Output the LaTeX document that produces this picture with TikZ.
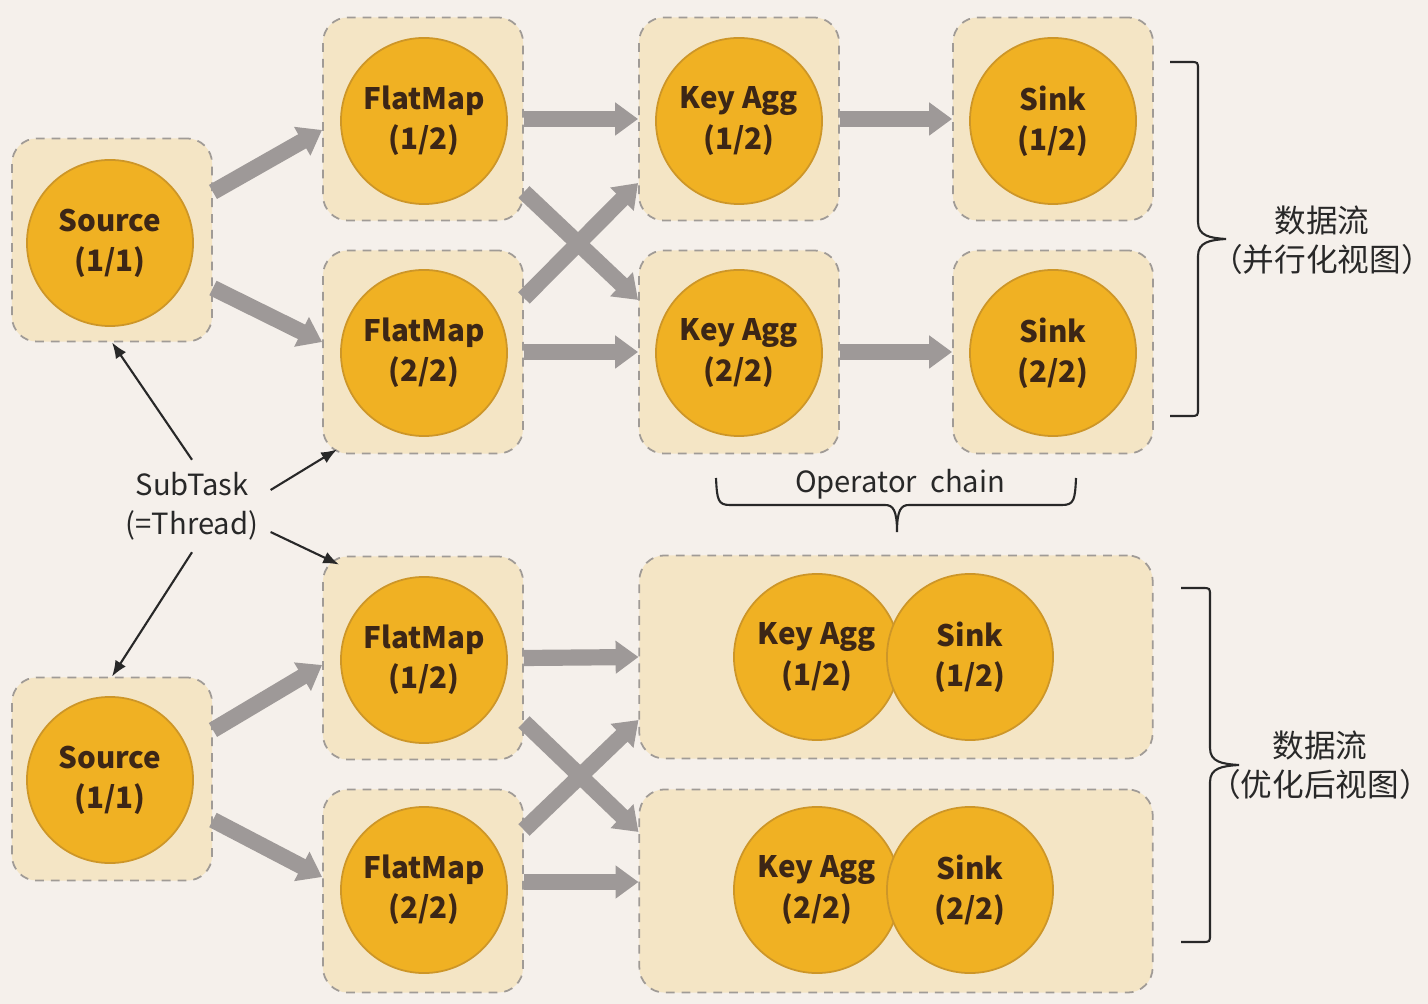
\documentclass[tikz,border=0pt]{standalone}
\usepackage{fontspec}
\setmainfont{Noto Sans CJK SC}
\usetikzlibrary{arrows.meta}
\definecolor{bgpaper}{RGB}{245,240,235}
\definecolor{boxfill}{RGB}{244,229,197}
\definecolor{boxline}{RGB}{160,155,150}
\definecolor{opfill}{RGB}{240,177,35}
\definecolor{opline}{RGB}{205,150,40}
\definecolor{optext}{RGB}{60,38,22}
\definecolor{flowgray}{RGB}{158,153,152}
\definecolor{notetext}{RGB}{40,40,40}

\begin{document}
\begin{tikzpicture}[x=0.01cm, y=-0.01cm,
  box/.style={draw=boxline, dashed, dash pattern=on 2.5pt off 2pt, line width=0.5pt, fill=boxfill, rounded corners=0.25cm, minimum width=2cm, minimum height=2.03cm},
  chainbox/.style={box, minimum width=5.13cm},
  op/.style={circle, draw=opline, line width=0.5pt, fill=opfill, minimum size=1.66cm, inner sep=0pt, align=center, text=optext, font=\fontsize{8.4}{11.4}\selectfont\bfseries},
  flow/.style={draw=flowgray, line width=4.6pt, -{Triangle[width=9pt,length=6.5pt]}},
  note/.style={font=\fontsize{8.3}{11}\selectfont, text=notetext, align=center},
  viewnote/.style={font=\fontsize{9}{11}\selectfont, text=notetext, align=center},
  hint/.style={-{Latex[length=4.5pt,width=3.5pt]}, line width=0.6pt, draw=notetext},
  bracket/.style={line width=0.6pt, draw=notetext}]
  \fill[bgpaper] (0,0) rectangle (1428,1004);
  \useasboundingbox (0,0) rectangle (1428,1004);

  % parallel view
  \node[box] (srcA) at (112,240) {};
  \node[box] (fmA1) at (423,119) {};
  \node[box] (fmA2) at (423,352) {};
  \node[box] (kaA1) at (739,119) {};
  \node[box] (kaA2) at (739,352) {};
  \node[box] (skA1) at (1053,119) {};
  \node[box] (skA2) at (1053,352) {};
  \node[op] (srcAop) at (110,243) {Source\\(1/1)};
  \node[op] (fmA1op) at (424,121) {FlatMap\\(1/2)};
  \node[op] (fmA2op) at (424,353) {FlatMap\\(2/2)};
  \node[op] (kaA1op) at (739,121) {Key Agg\\(1/2)};
  \node[op] (kaA2op) at (739,353) {Key Agg\\(2/2)};
  \node[op] (skA1op) at (1053,121) {Sink\\(1/2)};
  \node[op] (skA2op) at (1053,353) {Sink\\(2/2)};
  \draw[flow] ([yshift=4.8mm]srcA.east) -- ([yshift=-1.1mm]fmA1.west);
  \draw[flow] ([yshift=-4.8mm]srcA.east) -- ([yshift=1mm]fmA2.west);
  \draw[flow] (fmA1.east) -- (kaA1.west);
  \draw[flow] (fmA2.east) -- (kaA2.west);
  \draw[flow] ([yshift=-7.3mm]fmA1.east) -- ([yshift=5.2mm]kaA2.west);
  \draw[flow] ([yshift=5.4mm]fmA2.east) -- ([yshift=-6.4mm]kaA1.west);
  \draw[flow] (kaA1.east) -- (skA1.west);
  \draw[flow] (kaA2.east) -- (skA2.west);

  % optimized view
  \node[box] (srcB) at (112,779) {};
  \node[box] (fmB1) at (423,658) {};
  \node[box] (fmB2) at (423,891) {};
  \node[chainbox] (chB1) at (896,657) {};
  \node[chainbox] (chB2) at (896,891) {};
  \node[op] (srcBop) at (110,780) {Source\\(1/1)};
  \node[op] (fmB1op) at (424,660) {FlatMap\\(1/2)};
  \node[op] (fmB2op) at (424,890) {FlatMap\\(2/2)};
  \node[op] (kaB1op) at (817,657) {Key Agg\\(1/2)};
  \node[op] (skB1op) at (970,657) {Sink\\(1/2)};
  \node[op] (kaB2op) at (817,890) {Key Agg\\(2/2)};
  \node[op] (skB2op) at (970,890) {Sink\\(2/2)};
  \draw[flow] ([yshift=4.9mm]srcB.east) -- ([yshift=-0.7mm]fmB1.west);
  \draw[flow] ([yshift=-4.1mm]srcB.east) -- ([yshift=1.4mm]fmB2.west);
  \draw[flow] (fmB1.east) -- (chB1.west);
  \draw[flow] ([yshift=0.9mm]fmB2.east) -- ([yshift=0.9mm]chB2.west);
  \draw[flow] ([yshift=-6.4mm]fmB1.east) -- ([yshift=5.9mm]chB2.west);
  \draw[flow] ([yshift=6.1mm]fmB2.east) -- ([yshift=-6.3mm]chB1.west);

  % subtask hints
  \node[note] (sub) at (192,506) {SubTask\\(=Thread)};
  \draw[hint] (sub.north) -- (srcA.south);
  \draw[hint] ([yshift=1.6mm]sub.east) -- ([xshift=1.5mm, yshift=0.5mm]fmA2.south west);
  \draw[hint] ([yshift=-2.6mm]sub.east) -- ([xshift=1.7mm, yshift=-0.9mm]fmB1.north west);
  \draw[hint] (sub.south) -- (srcB.north);

  % operator chain
  \node[note] (chain) at (900,484) {Operator\ \ chain};
  \draw[bracket] (716,478) .. controls (717,500) and (718,505) .. (730,505) -- (885,505)
    .. controls (893,505) and (897,510) .. (897,532)
    .. controls (897,510) and (901,505) .. (909,505) -- (1062,505)
    .. controls (1074,505) and (1075,500) .. (1076,478);

  % view braces
  \draw[bracket] (1170,62) -- (1190,62) .. controls (1198,62) .. (1198,70) -- (1198,222)
    .. controls (1198,236) and (1210,238) .. (1226,239)
    .. controls (1210,240) and (1198,242) .. (1198,256) -- (1198,408)
    .. controls (1198,416) .. (1190,416) -- (1170,416);
  \node[viewnote] (parA) at (1322,240) {数据流\\（并行化视图）};
  \draw[bracket] (1181,588) -- (1202,588) .. controls (1210,588) .. (1210,596) -- (1210,748)
    .. controls (1210,762) and (1222,764) .. (1239,765)
    .. controls (1222,766) and (1210,768) .. (1210,782) -- (1210,934)
    .. controls (1210,942) .. (1202,942) -- (1181,942);
  \node[viewnote] (parB) at (1320,765) {数据流\\（优化后视图）};
\end{tikzpicture}
\end{document}
